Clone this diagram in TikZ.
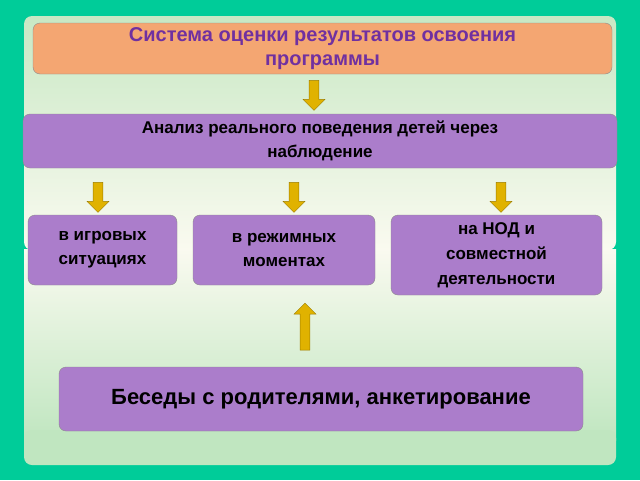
\documentclass[tikz,border=0pt]{standalone}
\usepackage{fontspec}
\setmainfont{Liberation Sans}
\usetikzlibrary{shapes.arrows}
\definecolor{teal}{RGB}{0,204,153}
\definecolor{orng}{RGB}{244,166,114}
\definecolor{purp}{RGB}{171,125,203}
\definecolor{tpurp}{RGB}{112,48,160}
\definecolor{gold}{RGB}{224,178,0}
\definecolor{pg1}{RGB}{200,232,196}
\definecolor{pg2}{RGB}{250,250,240}
\definecolor{pg3}{RGB}{192,230,192}
\tikzset{
 box/.style={draw=black!45,rounded corners=7pt,fill=purp,font=\bfseries,align=center,inner sep=0pt},
 arr/.style={single arrow,draw=gold!70!black,fill=gold,minimum width=22pt,single arrow head extend=4pt,single arrow head indent=0pt,inner sep=3pt}
}
\begin{document}
\begin{tikzpicture}[x=1pt,y=-1pt]
\useasboundingbox (0,0) rectangle (640,480);
\fill[teal] (0,0) rectangle (640,480);
\shade[top color=pg1,bottom color=pg2,rounded corners=8pt] (24,16) rectangle (616,250);
\shade[top color=pg2,bottom color=pg3] (24,249) rectangle (616,440);
\fill[pg3,rounded corners=8pt] (24,430) rectangle (616,465);
\node[box,fill=orng,text=tpurp,minimum width=579pt,minimum height=51pt,font=\bfseries\fontsize{20}{24}\selectfont] (t) at (322.5,48.5) {Система оценки результатов освоения\\программы};
\node[box,minimum width=594pt,minimum height=54pt,font=\bfseries\fontsize{17}{24}\selectfont] (a) at (320,141) {Анализ реального поведения детей через\\наблюдение};
\node[box,minimum width=149pt,minimum height=70pt,font=\bfseries\fontsize{17}{24}\selectfont] (b1) at (102.5,250) {в игровых\\ситуациях};
\node[box,minimum width=182pt,minimum height=70pt,font=\bfseries\fontsize{17}{24}\selectfont] (b2) at (284,250) {в режимных\\моментах};
\node[box,minimum width=211pt,minimum height=80pt,font=\bfseries\fontsize{17}{25}\selectfont] (b3) at (496.5,255) {на НОД и\\совместной\\деятельности};
\node[box,minimum width=524pt,minimum height=64pt,font=\bfseries\fontsize{22}{26}\selectfont] (c) at (321,399) {Беседы с родителями, анкетирование};
\node[arr,rotate=-90,minimum height=30pt] (r0) at (314,93) {};
\node[arr,rotate=-90,minimum height=30pt] (r1) at (98,195) {};
\node[arr,rotate=-90,minimum height=30pt] (r2) at (294,195) {};
\node[arr,rotate=-90,minimum height=30pt] (r3) at (501,195) {};
\node[arr,rotate=90,minimum height=47pt] (r4) at (305,329) {};
\end{tikzpicture}
\end{document}
